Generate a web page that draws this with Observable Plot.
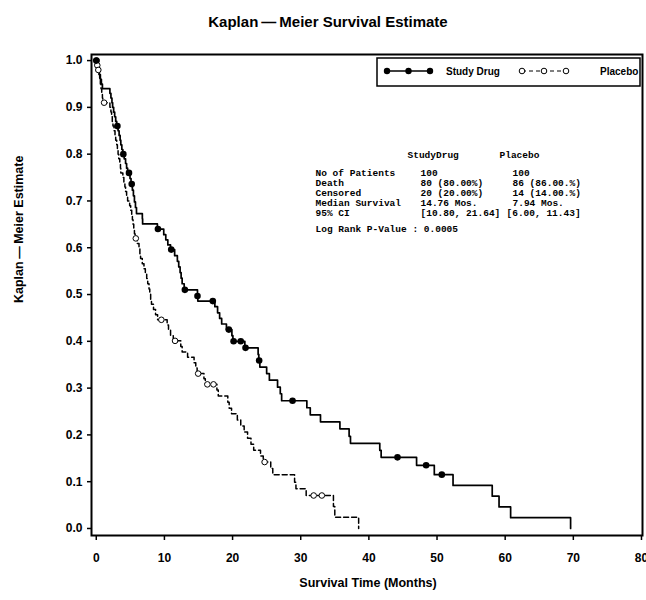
<!DOCTYPE html>
<html>
<head>
<meta charset="utf-8">
<script src="https://cdn.jsdelivr.net/npm/d3@7"></script>
<script src="https://cdn.jsdelivr.net/npm/@observablehq/plot@0.6"></script>
<style>
  html, body { margin: 0; padding: 0; background: #fff; }
  #chart svg { display: block; }
</style>
</head>
<body>
<div id="chart"></div>
<script>
// ---------- data ----------
const titleText = "Kaplan\u2009\u2014\u2009Meier Survival Estimate";
const yLabelText = "Kaplan\u2009\u2014\u2009Meier Estimate";
const xLabelText = "Survival Time (Months)";

const xTicks = [0, 10, 20, 30, 40, 50, 60, 70, 80];
const yTicks = [0, 0.1, 0.2, 0.3, 0.4, 0.5, 0.6, 0.7, 0.8, 0.9, 1.0];

// Study Drug: step curve (time, survival after event)
const studyTime = [0, 0.15, 0.3, 0.45, 0.6, 0.75, 0.9,
  2.0, 2.15, 2.3, 2.4, 2.55, 2.7, 2.85, 3.0,
  3.2, 3.35, 3.5, 3.6, 3.75, 3.9,
  4.1, 4.3, 4.45, 4.6, 4.95, 5.1,
  5.3, 5.45, 5.6, 5.75, 5.9,
  6.76, 6.8, 8.97,
  9.9, 10.2, 10.5, 10.9,
  11.5, 11.9, 12.1, 12.3, 12.45, 12.6, 12.9,
  14.85, 14.9,
  17.4, 17.8, 18.1, 18.4, 19.1, 19.9, 20.05, 21.8,
  23.75, 23.85, 24.0, 25.0, 25.4, 26.6, 27.0, 27.2,
  30.9, 31.4, 32.9, 35.75, 37.1, 37.3, 41.6, 41.8,
  47.0, 49.6, 52.35, 58.1, 59.1, 60.8, 69.6];
const studySurv = [1.0, 0.99, 0.98, 0.97, 0.96, 0.95, 0.94,
  0.93, 0.92, 0.91, 0.90, 0.89, 0.88, 0.87, 0.86,
  0.85, 0.84, 0.83, 0.82, 0.81, 0.80,
  0.79, 0.78, 0.77, 0.76, 0.748, 0.736,
  0.723, 0.711, 0.698, 0.686, 0.673,
  0.662, 0.651, 0.640,
  0.628, 0.617, 0.606, 0.596,
  0.583, 0.571, 0.559, 0.547, 0.535, 0.523, 0.510,
  0.497, 0.486,
  0.474, 0.461, 0.449, 0.437, 0.425, 0.412, 0.400, 0.386,
  0.372, 0.359, 0.345, 0.331, 0.317, 0.302, 0.288, 0.273,
  0.258, 0.243, 0.228, 0.213, 0.197, 0.182, 0.167, 0.152,
  0.135, 0.115, 0.092, 0.069, 0.046, 0.023, 0.0];
// Study Drug censored observations
const studyCensTime = [0, 3.1, 3.97, 4.8, 5.2, 9.05, 11.0, 13.0, 14.85, 17.1, 19.45, 20.15, 21.2, 21.9, 23.9, 28.8, 44.2, 48.4, 50.7];
const studyCensSurv = [1.0, 0.86, 0.80, 0.76, 0.736, 0.640, 0.596, 0.510, 0.497, 0.486, 0.425, 0.400, 0.400, 0.386, 0.359, 0.273, 0.152, 0.135, 0.115];

// Placebo: step curve
const placeboTime = [0, 0.1, 0.25, 0.4, 0.5, 0.6, 0.7, 0.8, 0.9, 0.95,
  2.0, 2.15, 2.25, 2.35, 2.45, 2.6, 2.75, 2.85, 3.0, 3.1, 3.2, 3.3, 3.45, 3.55, 3.6,
  3.9, 4.05, 4.2, 4.3, 4.45, 4.6, 4.9, 5.05, 5.2, 5.3, 5.4, 5.5, 5.6, 5.7,
  6.0, 6.27, 6.4, 6.5, 6.75, 7.0, 7.2, 7.4, 7.55, 7.74, 7.85, 7.98, 8.1, 8.4, 8.7, 9.0,
  10.4, 10.6, 10.9, 11.3, 12.4, 12.6, 13.4, 14.35, 14.6, 14.8, 15.8, 16.0,
  17.7, 17.9, 19.3, 19.5, 19.85, 20.7, 21.2, 21.7, 22.2, 22.7, 23.1, 24.1, 24.5,
  25.6, 25.9, 29.1, 29.3, 30.8, 34.8, 35.0, 38.5];
const placeboSurv = [1.0, 0.99, 0.98, 0.97, 0.96, 0.95, 0.94, 0.93, 0.92, 0.91,
  0.90, 0.89, 0.88, 0.87, 0.86, 0.85, 0.84, 0.83, 0.82, 0.81, 0.80, 0.79, 0.78, 0.77, 0.76,
  0.75, 0.74, 0.73, 0.72, 0.71, 0.70, 0.69, 0.68, 0.67, 0.66, 0.65, 0.64, 0.63, 0.62,
  0.609, 0.598, 0.587, 0.577, 0.566, 0.555, 0.544, 0.534, 0.523, 0.512, 0.501, 0.490, 0.479, 0.468, 0.457, 0.446,
  0.435, 0.424, 0.412, 0.401, 0.389, 0.377, 0.366, 0.354, 0.343, 0.331, 0.320, 0.308,
  0.296, 0.283, 0.270, 0.257, 0.245, 0.232, 0.219, 0.206, 0.193, 0.180, 0.167, 0.155, 0.142,
  0.128, 0.115, 0.099, 0.085, 0.0705, 0.047, 0.024, 0.0];
// Placebo censored observations
const placeboCensTime = [0.05, 0.15, 0.3, 1.15, 5.8, 9.55, 11.56, 14.95, 16.3, 17.2, 24.7, 31.9, 33.1];
const placeboCensSurv = [1.0, 0.99, 0.98, 0.91, 0.62, 0.446, 0.401, 0.331, 0.308, 0.308, 0.142, 0.0705, 0.0705];

// Legend and statistics table text
const seriesNames = ["Study Drug", "Placebo"];
const tableHeader = ["StudyDrug", "Placebo"];
const rowLabels = ["No of Patients", "Death", "Censored", "Median Survival", "95% CI"];
const studyStats = ["100", "80 (80.00%)", "20 (20.00%)", "14.76 Mos.", "[10.80, 21.64]"];
const placeboStats = ["100", "86 (86.00.%)", "14 (14.00.%)", "7.94 Mos."];
const placeboCI = "[6.00, 11.43]";
const logRankText = "Log Rank P-Value : 0.0005";

// ---------- build tables ----------
const study = studyTime.map((t, i) => ({t, s: studySurv[i]}));
const placebo = placeboTime.map((t, i) => ({t, s: placeboSurv[i]}));
const studyCens = studyCensTime.map((t, i) => ({t, s: studyCensSurv[i]}));
const placeboCens = placeboCensTime.map((t, i) => ({t, s: placeboCensSurv[i]}));

const sansBold = "'Liberation Sans', Arial, sans-serif";
const mono = "'Liberation Mono', 'DejaVu Sans Mono', monospace";

const ml = 91, mt = 54;
const monoSize = 9.5;
const rowTop = 168.5;
const monoText = {frameAnchor: "top-left", textAnchor: "start", lineAnchor: "top", lineHeight: 10 / monoSize, fontFamily: mono, fontSize: monoSize, fontWeight: "bold"};

const plot = Plot.plot({
  width: 646,
  height: 600,
  marginLeft: ml,
  marginRight: 4,
  marginTop: mt,
  marginBottom: 65,
  style: {fontFamily: sansBold, fontWeight: "bold", color: "black", background: "white", overflow: "visible"},
  x: {domain: [-0.7, 80.15], label: null},
  y: {domain: [-0.015, 1.013], label: null},
  marks: [
    Plot.axisX({ticks: xTicks, tickFormat: d => String(d), tickSize: 5, tickPadding: 13, fontSize: 12, fontWeight: "bold", strokeWidth: 1.5, label: null}),
    Plot.axisY({ticks: yTicks, tickFormat: d3.format(".1f"), tickSize: 4, tickPadding: 5, fontSize: 12, fontWeight: "bold", strokeWidth: 1.5, label: null}),
    Plot.line(placebo, {x: "t", y: "s", curve: "step-after", stroke: "black", strokeWidth: 1.5, strokeDasharray: "5,3"}),
    Plot.line(study, {x: "t", y: "s", curve: "step-after", stroke: "black", strokeWidth: 1.7}),
    Plot.dot(placeboCens, {x: "t", y: "s", r: 2.8, stroke: "black", strokeWidth: 1, fill: "white"}),
    Plot.dot(studyCens, {x: "t", y: "s", r: 3.3, fill: "black", stroke: "none"}),
    Plot.frame({stroke: "black", strokeWidth: 2}),
    // titles
    Plot.text([titleText], {frameAnchor: "top", dx: -39, dy: -38, fontSize: 15, fontWeight: "bold"}),
    Plot.text([xLabelText], {frameAnchor: "bottom", dx: 1, dy: 51, fontSize: 12.5, fontWeight: "bold"}),
    Plot.text([yLabelText], {frameAnchor: "left", dx: -73, dy: 8, rotate: -90, fontSize: 12.5, fontWeight: "bold"}),
    // statistics table
    Plot.text([tableHeader[0]], {...monoText, dx: 407 - ml, dy: 150.5 - mt}),
    Plot.text([tableHeader[1]], {...monoText, dx: 499 - ml, dy: 150.5 - mt}),
    Plot.text([rowLabels.join("\n")], {...monoText, dx: 315 - ml, dy: rowTop - mt}),
    Plot.text([studyStats.join("\n")], {...monoText, dx: 420 - ml, dy: rowTop - mt}),
    Plot.text([placeboStats.join("\n")], {...monoText, dx: 512 - ml, dy: rowTop - mt}),
    Plot.text([placeboCI], {...monoText, dx: 506 - ml, dy: rowTop + 40 - mt}),
    Plot.text([logRankText], {...monoText, dx: 315 - ml, dy: rowTop + 56 - mt})
  ]
});

// ---------- legend box (layout only) ----------
const svg = d3.select(plot);
const lg = svg.append("g").attr("font-family", sansBold).attr("font-weight", "bold").attr("text-anchor", "start");
lg.append("rect").attr("x", 377).attr("y", 58).attr("width", 263).attr("height", 28)
  .attr("fill", "white").attr("stroke", "black").attr("stroke-width", 1.5);
const ly = 71;
lg.append("line").attr("x1", 387).attr("x2", 430).attr("y1", ly).attr("y2", ly).attr("stroke", "black").attr("stroke-width", 1.5);
[387, 408.5, 430].forEach(x => lg.append("circle").attr("cx", x).attr("cy", ly).attr("r", 3.2).attr("fill", "black"));
lg.append("text").attr("x", 446).attr("y", ly).attr("dy", "0.35em").attr("font-size", 10).attr("text-anchor", "start").text(seriesNames[0]);
lg.append("line").attr("x1", 522).attr("x2", 566).attr("y1", ly).attr("y2", ly).attr("stroke", "black").attr("stroke-width", 1).attr("stroke-dasharray", "4,3");
[522, 544, 566].forEach(x => lg.append("circle").attr("cx", x).attr("cy", ly).attr("r", 2.8).attr("fill", "white").attr("stroke", "black").attr("stroke-width", 1));
lg.append("text").attr("x", 600).attr("y", ly).attr("dy", "0.35em").attr("font-size", 10).attr("text-anchor", "start").text(seriesNames[1]);

document.getElementById("chart").appendChild(plot);
</script>
</body>
</html>
